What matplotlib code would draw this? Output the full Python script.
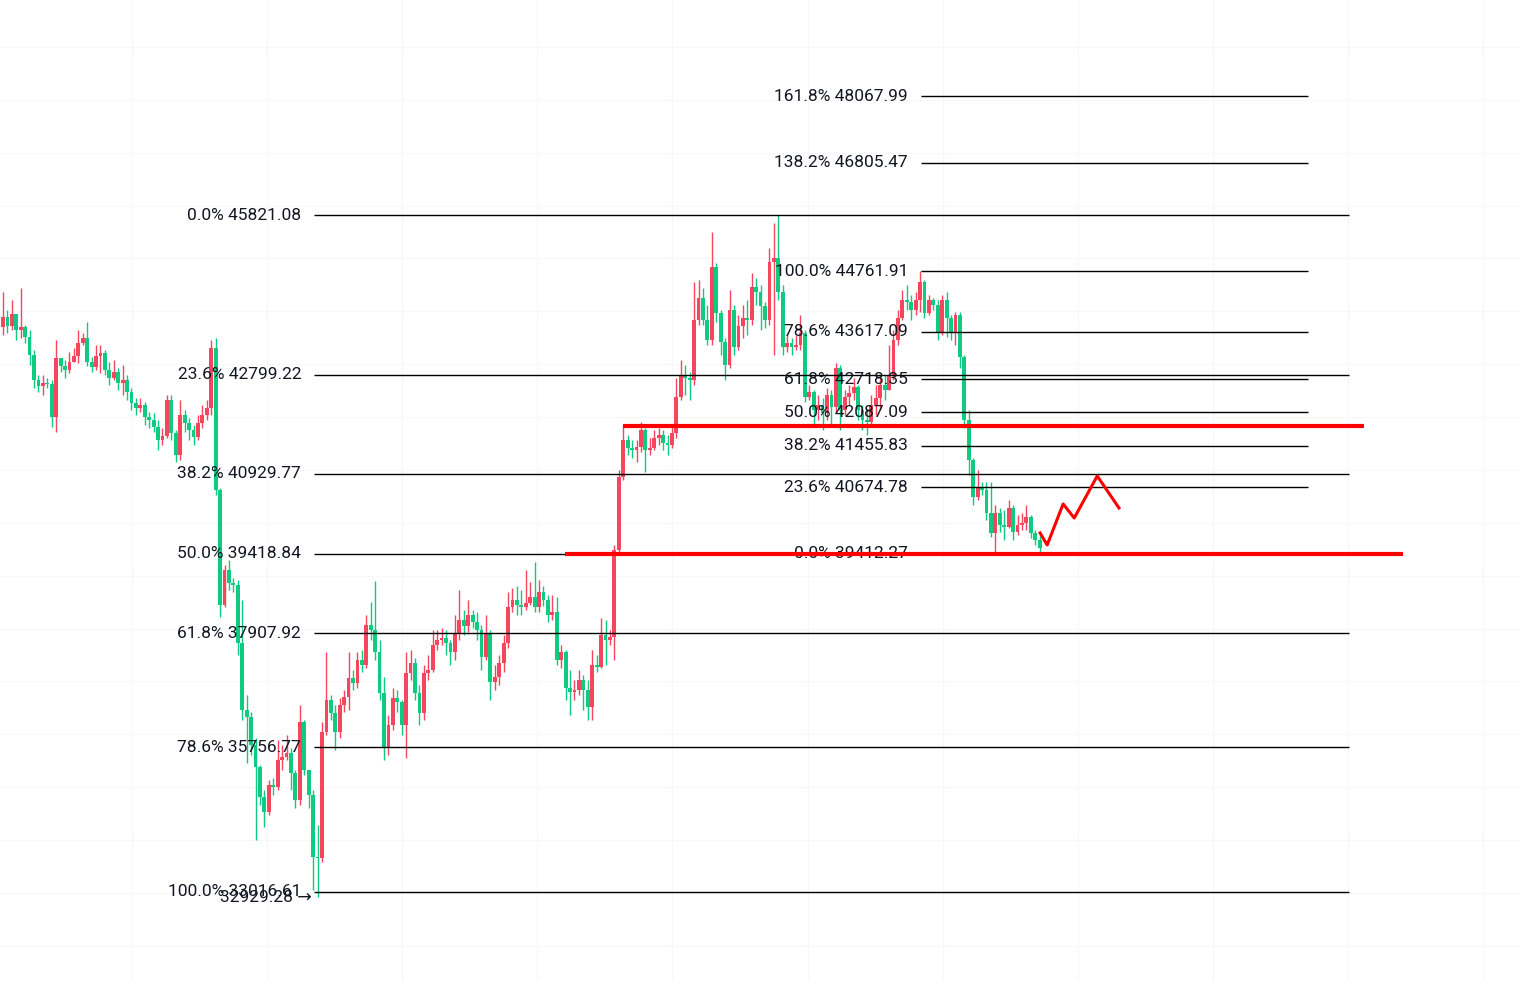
import matplotlib
matplotlib.use("Agg")
import matplotlib.pyplot as plt
import numpy as np

plt.rcParams['font.family'] = ['Roboto', 'DejaVu Sans']

# candle data (open of each candle = previous close)
first_open = 43703
close = [
    43892, 43722, 43949, 43646, 43703, 43514, 43173, 42701, 42587, 42644,
    42625, 42000, 43116, 42965, 42890, 43041, 43154, 43401, 43495, 43041,
    42946, 43154, 43211, 42890, 42738, 42852, 42644, 42701, 42473, 42265,
    42171, 42227, 42000, 41944, 41811, 41566, 41641, 42322, 41698, 41282,
    42038, 41887, 41755, 41622, 41887, 42038, 42171, 43306, 40620, 38445,
    39107, 38862, 38824, 37727, 36459, 36327, 35797, 35381, 34814, 34530,
    35040, 35002, 35513, 35570, 35646, 35267, 34757, 36232, 35324, 34851,
    33679, 33660, 36043, 36648, 36402, 36043, 36554, 36705, 37064, 36970,
    37405, 37310, 38067, 37972, 37556, 36781, 35740, 36175, 36686, 36610,
    36175, 37159, 37348, 36781, 36402, 37159, 37216, 37689, 37783, 37821,
    37727, 37556, 37916, 38161, 38048, 38256, 38124, 37972, 37462, 37916,
    36989, 37083, 37348, 37727, 38408, 38540, 38445, 38408, 38483, 38597,
    38408, 38691, 38540, 38256, 38313, 37405, 37556, 36875, 36800, 36837,
    37026, 36837, 36516, 37310, 37273, 37878, 37783, 37840, 39485, 40866,
    41566, 41415, 41377, 41433, 41755, 41377, 41415, 41604, 41660, 41509,
    41471, 41698, 42379, 42795, 42738, 42701, 43835, 44252, 43835, 43457,
    44838, 43968, 43420, 42984, 44025, 43325, 43722, 43873, 43835, 44460,
    44365, 44101, 43835, 44932, 45008, 44365, 43325, 43401, 43325, 43363,
    43590, 42379, 42473, 42133, 42227, 42076, 42417, 42190, 42927, 42133,
    42379, 42454, 42568, 42133, 41944, 41906, 42227, 42360, 42606, 42511,
    42795, 43457, 43873, 44214, 44176, 44025, 44214, 44554, 43968, 44214,
    44120, 43608, 44214, 43873, 43590, 43930, 43135, 41944, 41187, 40488,
    40677, 40620, 40185, 39807, 40185, 39958, 39920, 40280, 39825, 39958,
    39996, 40109, 39807, 39674, 39523,
]
high = [
    44365, 44025, 44214, 43873, 44441, 43741, 43646, 43268, 42795, 42795,
    42738, 42701, 43457, 43116, 43079, 43230, 43306, 43646, 43590, 43798,
    43135, 43363, 43363, 43268, 43041, 43079, 42927, 42984, 42795, 42549,
    42360, 42360, 42284, 42095, 42076, 41944, 41792, 42417, 42417, 41755,
    42322, 42133, 41982, 41849, 42038, 42227, 42322, 43457, 43495, 40658,
    39202, 39296, 38956, 38918, 38540, 36743, 36421, 35929, 35419, 34946,
    35135, 35173, 35892, 35797, 35986, 35740, 35324, 36554, 36270, 35324,
    34946, 34284, 36232, 37556, 36743, 36554, 36686, 36837, 37556, 37216,
    37556, 37594, 38256, 38502, 38899, 37783, 37083, 36364, 36875, 36837,
    36648, 37556, 37594, 37443, 36932, 37310, 37500, 37972, 37972, 38010,
    37972, 37783, 38256, 38729, 38350, 38540, 38350, 38313, 38067, 38256,
    37972, 37310, 37500, 37878, 38691, 38767, 38805, 38729, 39107, 38880,
    39258, 38918, 38805, 38635, 38635, 38597, 37689, 37594, 37216, 37026,
    37216, 37121, 37026, 37594, 37500, 38199, 38161, 37972, 39579, 40998,
    41850, 41660, 41566, 41566, 41906, 41792, 41604, 41755, 41792, 41755,
    41660, 41849, 42738, 43079, 42984, 42852, 44554, 44592, 44441, 44120,
    45500, 44913, 44025, 43495, 44403, 44120, 43930, 44120, 44214, 44724,
    44630, 44498, 44176, 45197, 45670, 45821, 44498, 43552, 43495, 43552,
    43930, 43646, 42606, 42511, 42417, 42360, 42549, 42511, 43022, 42984,
    42511, 42606, 42738, 42606, 42227, 42133, 42417, 42606, 42738, 42795,
    43363, 43646, 44025, 44403, 44498, 44309, 44365, 44762, 44592, 44309,
    44252, 44214, 44309, 44365, 43930, 43987, 43987, 43173, 42133, 41225,
    40998, 40771, 40771, 40771, 40337, 40280, 40242, 40431, 40337, 40147,
    40185, 40337, 40147, 39863, 39769,
]
low = [
    43552, 43590, 43646, 43457, 43495, 43401, 42984, 42549, 42473, 42417,
    42549, 41811, 41717, 42852, 42738, 42833, 43041, 43022, 43363, 42965,
    42852, 42890, 42833, 42795, 42606, 42701, 42511, 42417, 42322, 42133,
    42038, 42095, 41849, 41792, 41717, 41377, 41471, 41604, 41566, 41150,
    41187, 41717, 41566, 41471, 41566, 41792, 41944, 42038, 40525, 38218,
    38408, 38729, 38691, 37500, 36270, 35456, 35608, 34000, 34662, 34246,
    34473, 34851, 34946, 35324, 35513, 34946, 34606, 34662, 35229, 34606,
    33054, 32929, 33584, 35986, 36270, 35702, 35929, 36421, 36459, 36837,
    36875, 37178, 37254, 37783, 37405, 36648, 35513, 35608, 36081, 36421,
    35986, 35551, 37026, 36648, 36175, 36270, 37026, 37178, 37594, 37689,
    37500, 37310, 37405, 37783, 37878, 37935, 38010, 37783, 37216, 37405,
    36648, 36837, 36932, 37178, 37632, 38313, 38256, 38256, 38350, 38445,
    38313, 38313, 38427, 38124, 38161, 37310, 37254, 36648, 36364, 36648,
    36743, 36459, 36270, 36270, 37178, 37254, 37310, 37689, 37405, 39390,
    40809, 41282, 41225, 41150, 41339, 40960, 41282, 41377, 41471, 41377,
    41282, 41415, 41604, 42322, 42417, 42322, 42606, 43741, 43741, 43363,
    43363, 43798, 43173, 42701, 42927, 43173, 43268, 43495, 43552, 43741,
    44120, 43646, 43684, 43741, 43173, 44214, 43173, 43230, 43173, 43268,
    43268, 42284, 42322, 41849, 41944, 41755, 41944, 41849, 42095, 41755,
    42038, 42227, 42322, 41944, 41755, 41660, 41849, 42038, 42133, 42322,
    42511, 42701, 43363, 43835, 44025, 43835, 43930, 43987, 43873, 43930,
    44025, 43457, 43552, 43514, 43457, 43363, 42927, 41792, 40904, 40337,
    40431, 40525, 40053, 39731, 39412, 39825, 39674, 39901, 39674, 39769,
    39863, 39863, 39712, 39579, 39447,
]

# fibonacci retracement drawn from the low to the high (left)
left_fib_pct = ["0.0%", "23.6%", "38.2%", "50.0%", "61.8%", "78.6%", "100.0%"]
left_fib_price = [45821.08, 42799.22, 40929.77, 39418.84, 37907.92, 35756.77, 33016.61]
# fibonacci drawn from the 44761.91 high to the 39412.27 low (right)
right_fib_pct = ["161.8%", "138.2%", "100.0%", "78.6%", "61.8%", "50.0%", "38.2%", "23.6%", "0.0%"]
right_fib_price = [48067.99, 46805.47, 44761.91, 43617.09, 42718.35, 42087.09, 41455.83, 40674.78, 39412.27]
low_marker = 32929.28

# hand drawn lines
support_levels = [41830, 39412]
zigzag_x = [234.1, 235.7, 239.3, 241.8, 247.0, 251.9]
zigzag_y = [39807, 39580, 40356, 40090, 40885, 40280]

UP = '#F6465D'
DOWN = '#0ECB81'

fig = plt.figure(figsize=(15.19, 9.81), dpi=100)
ax = fig.add_axes([0, 0, 1, 1])
ax.set_xlim(-0.68, 342.2)
ax.set_ylim(31333, 49888)
ax.axis('off')

# faint grid
for gx in np.arange(29.1, 342, 30.5):
    ax.axvline(gx, color='#f6f7f9', lw=0.8, zorder=0)
for gy in range(32000, 50000, 1000):
    ax.axhline(gy, color='#f6f7f9', lw=0.8, zorder=0)

close = np.array(close, float)
opn = np.concatenate([[first_open], close[:-1]])
high = np.maximum(np.array(high, float), np.maximum(opn, close))
low = np.minimum(np.array(low, float), np.minimum(opn, close))
idx = np.arange(len(close))
cols = [UP if c >= o else DOWN for o, c in zip(opn, close)]

ax.vlines(idx, low, high, colors=cols, lw=1.0, zorder=2)
body_h = np.maximum(np.abs(close - opn), 25)
ax.bar(idx, body_h, bottom=np.minimum(opn, close), width=0.86, color=cols,
       linewidth=0, zorder=3)

txt_kw = dict(fontsize=12.5, color='#131722', va='center', ha='right', zorder=6)

for pct, p in zip(left_fib_pct, left_fib_price):
    ax.hlines(p, 70.2, 303.8, color='black', lw=1.0, zorder=4)
    ax.text(67.3, p, f"{pct} {p:.2f}", **txt_kw)

for pct, p in zip(right_fib_pct, right_fib_price):
    ax.hlines(p, 207.2, 294.6, color='black', lw=1.0, zorder=4)
    ax.text(204.3, p, f"{pct} {p:.2f}", **txt_kw)

ax.text(69.8, low_marker - 20, f"{low_marker:.2f} \u2192", **txt_kw)

# red support / resistance lines and projected path
ax.hlines(support_levels[0], 140.0, 307.2, color='#ff0000', lw=3.0, zorder=7)
ax.hlines(support_levels[1], 126.9, 316.0, color='#ff0000', lw=3.0, zorder=7)
ax.plot(zigzag_x, zigzag_y, color='#ff0000', lw=2.2, zorder=7)

fig.savefig('out.png', dpi=100)
